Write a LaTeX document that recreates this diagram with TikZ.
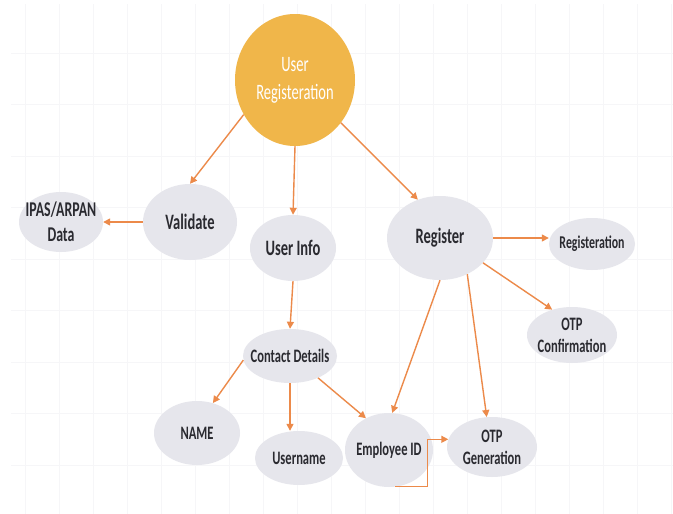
\documentclass[tikz,border=0pt]{standalone}
\usepackage{fontspec}
\usepackage{tikz}
\usetikzlibrary{arrows.meta,shapes.geometric}
\newfontfamily\diafont{Carlito}[FakeStretch=0.66]
\definecolor{bubblegray}{HTML}{E6E6EC}
\definecolor{goldfill}{HTML}{F0B64A}
\definecolor{linkorange}{HTML}{EC8A4A}
\definecolor{inkgray}{HTML}{2A2A30}
\definecolor{gridgray}{HTML}{F6F6F8}

\begin{document}
\begin{tikzpicture}[x=1pt,y=-1pt,
    bubble/.style={ellipse,fill=bubblegray,inner xsep=-12pt,inner ysep=0pt,text=inkgray,align=center,
        font=\diafont\bfseries\fontsize{19}{22}\selectfont},
    big/.style={font=\diafont\bfseries\fontsize{22}{26}\selectfont},
    link/.style={draw=linkorange,line width=1.4pt,-{Triangle[length=7pt,width=7pt]}},
    gridline/.style={draw=gridgray,line width=1pt}]
                \useasboundingbox (0,0) rectangle (673,514);
                \fill[white] (0,0) rectangle (673,514);
                \foreach \gx in {0,...,19} \draw[gridline] (25+34*\gx,4) -- (25+34*\gx,514);
                \foreach \gy in {0,...,8} \draw[gridline] (11,53+51.5*\gy) -- (673,53+51.5*\gy);

                \node[bubble,big,fill=goldfill,text=white,font=\diafont\fontsize{22}{28}\selectfont,
                    minimum width=120pt,minimum height=132pt] (ureg) at (295,80) {User\\Registeration};

                \node[bubble,big,minimum width=94pt,minimum height=76pt] (val) at (190,222) {Validate};
                \node[bubble,font=\diafont\bfseries\fontsize{21}{25}\selectfont,
                    minimum width=84pt,minimum height=60pt] (ipas) at (61,222) {IPAS/ARPAN\\Data};
                \node[bubble,big,minimum width=86pt,minimum height=66pt] (uinfo) at (293,248) {User Info};
                \node[bubble,big,minimum width=106pt,minimum height=84pt] (reg) at (440,238) {Register};
                \node[bubble,font=\diafont\bfseries\fontsize{18}{21}\selectfont,
                    minimum width=86pt,minimum height=52pt] (regn) at (592,244) {Registeration};
                \node[bubble,minimum width=90pt,minimum height=56pt] (otpc) at (572,335) {OTP\\Confirmation};

                \node[bubble,minimum width=94pt,minimum height=54pt] (cont) at (290,356) {Contact Details};
                \node[bubble,minimum width=86pt,minimum height=64pt] (name) at (197,433) {NAME};
                \node[bubble,minimum width=88pt,minimum height=54pt] (uname) at (299,458) {Username};
                \node[bubble,minimum width=88pt,minimum height=74pt] (emp) at (389,450) {Employee ID};
                \node[bubble,minimum width=90pt,minimum height=60pt] (otpg) at (492,447) {OTP\\Generation};

                \draw[link] (ureg.-146) -- (val.north);
                \draw[link] (ureg.south) -- (uinfo.north);
                \draw[link] (ureg.-43) -- (reg.120);
                \draw[link] (val.west) -- (val.west -| ipas.east);

                \draw[link] (reg.east) -- (reg.east -| regn.west);
                \draw[link] (reg.-30) -- (otpc.128);
                \draw[link] (reg.south) -- (emp.85);
                \draw[link] (reg.-53) -- (otpg.100);

                \draw[link] (uinfo.south) -- (cont.north);
                \draw[link] (cont.185) -- (name.62);
                \draw[link] (cont.south) -- (cont.south |- uname.north);
                \draw[link] (cont.-38) -- (emp.126);
                \draw[link] (emp.-80) -- ++(32,0) |- (otpg.170);
            \end{tikzpicture}
\end{document}
